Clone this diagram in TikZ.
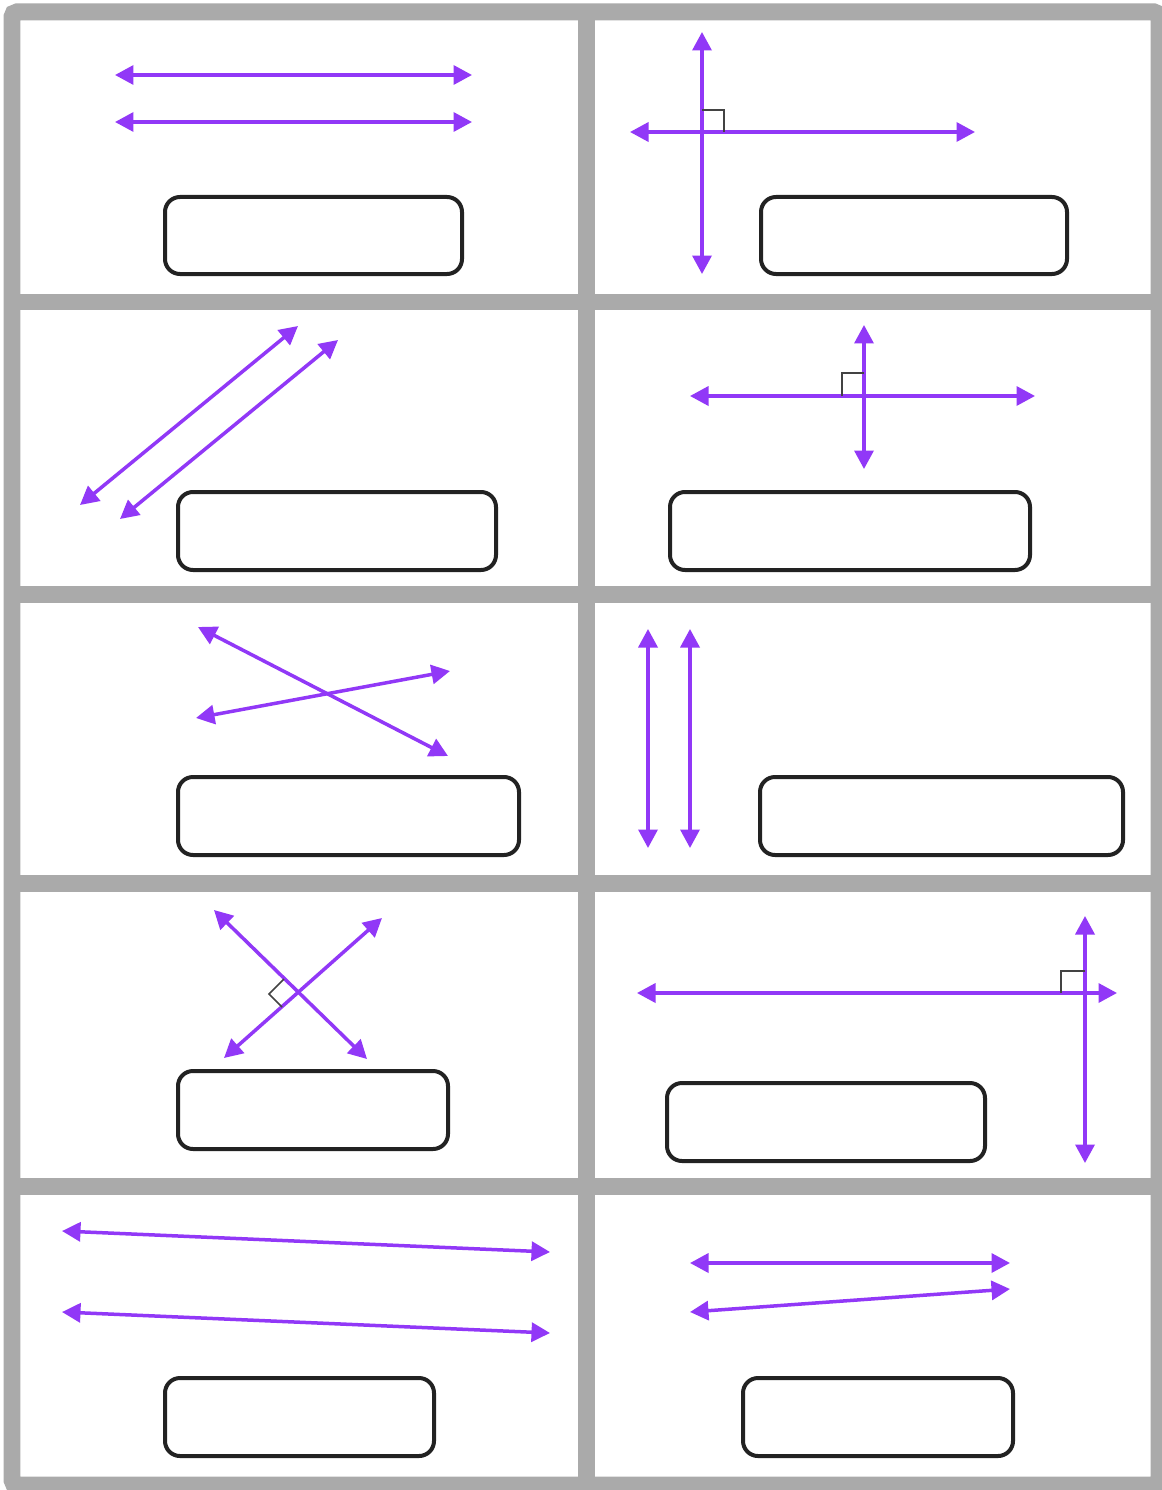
\documentclass[tikz,border=0pt]{standalone}
\usetikzlibrary{arrows.meta}

\definecolor{linepurple}{RGB}{145,56,247}
\definecolor{framegray}{RGB}{170,170,170}
\definecolor{boxblack}{RGB}{34,34,34}

\begin{document}
\begin{tikzpicture}[x=0.02cm,y=-0.02cm,
  ray/.style={draw=linepurple,line width=0.07cm,
    {Triangle[length=0.37cm,width=0.38cm]}-{Triangle[length=0.37cm,width=0.38cm]}},
  answerbox/.style={draw=boxblack,line width=0.08cm,rounded corners=0.3cm},
  rightmark/.style={draw=boxblack!85,line width=0.03cm},
  framebar/.style={draw=framegray,line width=0.34cm}]
\useasboundingbox (0,0) rectangle (1162,1490);
\fill[white] (0,0) rectangle (1162,1490);

% frame
\draw[framebar,rounded corners=0.1cm] (12,12) rectangle (1159,1485);
\draw[framebar] (586,12) -- (586,1485);
\foreach \y in {302,594,883,1186}
  \draw[framebar] (12,\y) -- (1159,\y);

% row 1
\draw[ray] (115,75) -- (472,75);
\draw[ray] (115,122) -- (472,122);
\draw[answerbox] (165,197) rectangle (462,274);

\draw[ray] (702,32) -- (702,274);
\draw[ray] (630,132) -- (975,132);
\draw[rightmark] (702,110) -- (724,110) -- (724,132);
\draw[answerbox] (761,197) rectangle (1067,274);

% row 2
\draw[ray] (80,505) -- (298,326);
\draw[ray] (120,519) -- (338,340);
\draw[answerbox] (178,492) rectangle (496,570);

\draw[ray] (690,396) -- (1035,396);
\draw[ray] (864,325) -- (864,469);
\draw[rightmark] (842,396) -- (842,373) -- (864,373);
\draw[answerbox] (670,492) rectangle (1030,570);

% row 3
\draw[ray] (198,627) -- (448,756);
\draw[ray] (196,718) -- (450,671);
\draw[answerbox] (178,777) rectangle (519,855);

\draw[ray] (648,629) -- (648,848);
\draw[ray] (690,629) -- (690,848);
\draw[answerbox] (760,777) rectangle (1123,855);

% row 4
\draw[ray] (214,910) -- (367,1059);
\draw[ray] (382,918) -- (224,1058);
\draw[rightmark] (284,979) -- (269,994) -- (282,1007);
\draw[answerbox] (178,1071) rectangle (448,1149);

\draw[ray] (637,993) -- (1117,993);
\draw[ray] (1085,916) -- (1085,1163);
\draw[rightmark] (1061,993) -- (1061,971) -- (1085,971);
\draw[answerbox] (667,1083) rectangle (985,1161);

% row 5
\draw[ray] (62,1231) -- (550,1252);
\draw[ray] (62,1312) -- (550,1333);
\draw[answerbox] (165,1378) rectangle (434,1456);

\draw[ray] (690,1263) -- (1010,1263);
\draw[ray] (690,1312) -- (1010,1289);
\draw[answerbox] (743,1378) rectangle (1013,1456);
\end{tikzpicture}
\end{document}
